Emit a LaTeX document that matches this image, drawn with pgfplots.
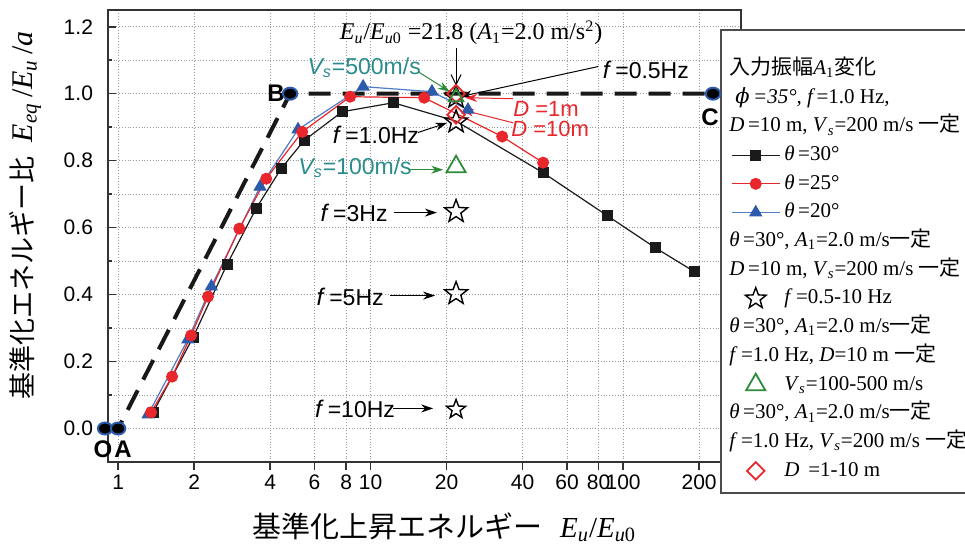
\documentclass[border=0pt]{standalone}
\usepackage{fontspec}
\setmainfont{Liberation Serif}
\newfontfamily\arial{Liberation Sans}
\newfontfamily\jp{Noto Sans CJK JP}
\newfontfamily\dvs{DejaVu Serif}
\usepackage{pgfplots}
\pgfplotsset{compat=1.18}
\usetikzlibrary{arrows.meta}
\definecolor{cred}{HTML}{E8262B}
\definecolor{cblue}{HTML}{2B5BAA}
\definecolor{cblueline}{HTML}{4F7CC4}
\definecolor{cgreen}{HTML}{2E8B3A}
\definecolor{cteal}{HTML}{2A8C8C}
\definecolor{cblack}{HTML}{1A1A1A}
\pgfdeclareplotmark{ostar}{%
 \pgfpathmoveto{\pgfpointpolar{90}{\pgfplotmarksize}}%
 \pgfpathlineto{\pgfpointpolar{126}{0.42\pgfplotmarksize}}%
 \pgfpathlineto{\pgfpointpolar{162}{\pgfplotmarksize}}%
 \pgfpathlineto{\pgfpointpolar{198}{0.42\pgfplotmarksize}}%
 \pgfpathlineto{\pgfpointpolar{234}{\pgfplotmarksize}}%
 \pgfpathlineto{\pgfpointpolar{270}{0.42\pgfplotmarksize}}%
 \pgfpathlineto{\pgfpointpolar{306}{\pgfplotmarksize}}%
 \pgfpathlineto{\pgfpointpolar{342}{0.42\pgfplotmarksize}}%
 \pgfpathlineto{\pgfpointpolar{18}{\pgfplotmarksize}}%
 \pgfpathlineto{\pgfpointpolar{54}{0.42\pgfplotmarksize}}%
 \pgfpathclose
 \pgfusepathqstroke}
\pgfplotsset{
  lineleg/.style={legend image code/.code={\draw[mark repeat=2, mark phase=2, ##1] plot coordinates {(0pt,0pt) (12pt,0pt) (24pt,0pt)};}},
  markleg/.style={legend image code/.code={\draw[##1] plot coordinates {(12pt,0pt)};}},
}
\newcommand{\ssz}{\arial\fontsize{11.5}{13}\selectfont}
\newcommand{\tsz}{\fontsize{12}{14}\selectfont}
\newcommand{\lgs}{\hspace*{-27.5pt}}
\newcommand{\itx}[1]{\textit{#1}}
\newcommand{\sub}[1]{\textsubscript{#1}}
\begin{document}
\begin{tikzpicture}
\begin{axis}[
  at={(0,0)}, anchor=south west, scale only axis,
  width=316.5pt, height=226pt,
  xmode=log, xmin=0.912, xmax=293, ymin=-0.1, ymax=1.25,
  clip=false,
  xtick={1,2,4,6,8,10,20,40,60,80,100,200},
  xticklabels={1,2,4,6,8,10,20,40,60,80,100,200},
  ytick={0,0.2,0.4,0.6,0.8,1.0,1.2},
  minor ytick={0.1,0.3,0.5,0.7,0.9,1.1},
  xmajorgrids, ymajorgrids, yminorgrids,
  major grid style={densely dotted, black!40, line width=0.5pt},
  minor grid style={densely dotted, black!40, line width=0.5pt},
  xtick pos=left, ytick pos=left,
  tick align=inside,
  major tick length=4pt, minor tick length=2pt,
  x tick style={yshift=-4pt},
  axis line style={black!80, line width=0.9pt},
  tick style={black!80, line width=0.8pt},
  tick label style={font=\arial\fontsize{10.5}{12}\selectfont},
  /pgf/number format/assume math mode=true,
  yticklabel style={/pgf/number format/fixed, /pgf/number format/fixed zerofill, /pgf/number format/precision=1, xshift=-4pt},
  xticklabel style={yshift=-3pt},
  legend style={at={(0.968,0.933)}, anchor=north west, draw=none, fill=none,
    font=\fontsize{10.5}{12.5}\selectfont, inner xsep=5pt, inner ysep=7pt, row sep=0pt,
    nodes={inner ysep=1pt, text height=8.85pt, text depth=3.5pt}},
  legend cell align=left,
]
% reference line O-A-B-C
\addplot[forget plot, black!90, line width=2pt, dash pattern=on 11pt off 6pt, mark=*, mark size=3pt,
  mark options={solid, fill=black, draw=cblue, line width=1pt, xscale=1.2}]
  coordinates {(0.888,0) (1.0,0) (4.8,1.0) (227,1.0)};
% theta = 30
\addplot[forget plot, cblack, line width=0.6pt] coordinates {
 (1.376,0.048)(1.98,0.272)(2.70,0.49)(3.52,0.657)(4.42,0.776)(5.45,0.860)(7.71,0.946)(12.3,0.973)
 (21.8,0.918)(48.2,0.764)(86.4,0.636)(134,0.540)(191,0.469)};
\addplot[forget plot, only marks, mark=square*, mark size=2.5pt, cblack] coordinates {
 (1.376,0.048)(1.98,0.272)(2.70,0.49)(3.52,0.657)(4.42,0.776)(5.45,0.860)(7.71,0.946)(12.3,0.973)
 (48.2,0.764)(86.4,0.636)(134,0.540)(191,0.469)};
% theta = 20
\addplot[forget plot, cblueline, line width=0.6pt, mark=triangle*, mark size=3.3pt, mark options={fill=cblue, draw=cblue}] coordinates {
 (1.315,0.042)(1.89,0.266)(2.34,0.424)(3.65,0.722)(5.16,0.893)(9.34,1.021)(17.5,1.006)(24.3,0.952)};
% theta = 25
\addplot[forget plot, cred, line width=0.6pt, mark=*, mark size=2.7pt] coordinates {
 (1.35,0.048)(1.636,0.155)(1.946,0.278)(2.27,0.394)(3.02,0.597)(3.86,0.746)(5.36,0.886)(8.30,0.991)
 (16.3,0.988)(33.2,0.872)(48.2,0.794)};
% f variation (stars)
\addplot[forget plot, only marks, mark=ostar, mark size=6pt, mark options={draw=black, line width=0.7pt}] coordinates {
 (21.8,0.99)(21.8,0.916)(21.8,0.648)(21.8,0.403)};
\addplot[forget plot, only marks, mark=ostar, mark size=5pt, mark options={draw=black, line width=0.7pt}] coordinates {(21.8,0.057)};
% D variation (diamonds)
\addplot[forget plot, only marks, mark=square, mark size=3.1pt, mark options={rotate=45, draw=cred, line width=0.9pt}] coordinates {(21.8,1.0)(21.8,0.937)};
% Vs variation (triangles)
\addplot[forget plot, only marks, mark=triangle, mark size=5.5pt, mark options={draw=cgreen, line width=0.9pt}] coordinates {(21.8,0.782)};
\addplot[forget plot, only marks, mark=triangle, mark size=4.2pt, mark options={draw=cgreen, line width=0.9pt}] coordinates {(21.8,0.99)};

% annotations
\node[font=\tsz] at (axis cs:25.0,1.182) {\itx{E}\sub{\itx{u}}/\itx{E}\sub{\itx{u}0} =21.8 (\itx{A}\sub{1}=2.0 m/s\textsuperscript{2})};
\draw[-{Straight Barb[length=5pt,width=5pt]}, black, line width=0.5pt] (axis cs:21.8,1.137) -- (axis cs:21.8,1.024);
\node[font=\ssz, text=cteal] at (axis cs:9.43,1.078) {\itshape V\sub{s}\upshape =500m/s};
\draw[-{Stealth[length=6pt,width=4pt]}, cgreen, line width=0.5pt] (axis cs:15.4,1.066) -- (axis cs:20.6,1.006);
\node[font=\ssz] at (axis cs:123,1.072) {{\tsz\itx{f}}\,=0.5Hz};
\draw[-{Stealth[length=6pt,width=4pt]}, black, line width=0.5pt] (axis cs:79.6,1.081) -- (axis cs:22.6,0.991);
\node[font=\arial\fontsize{11}{12}\selectfont, text=cred, inner sep=0pt] at (axis cs:49.5,0.955) {\itshape D\upshape\ =1m};
\draw[-{Stealth[length=6pt,width=4pt]}, cred, line width=0.5pt] (axis cs:36.7,0.985) -- (axis cs:23.7,0.988);
\node[font=\arial\fontsize{11}{12}\selectfont, text=cred, inner sep=0pt] at (axis cs:51.4,0.895) {\itshape D\upshape\ =10m};
\draw[-{Stealth[length=6pt,width=4pt]}, cred, line width=0.5pt] (axis cs:36.7,0.913) -- (axis cs:23.0,0.952);
\node[font=\ssz] at (axis cs:10.5,0.878) {{\tsz\itx{f}}\,=1.0Hz};
\draw[-{Stealth[length=6pt,width=4pt]}, black, line width=0.5pt] (axis cs:15.4,0.884) -- (axis cs:20.1,0.913);
\node[font=\ssz, text=cteal] at (axis cs:8.68,0.779) {\itshape V\sub{s}\upshape =100m/s};
\draw[-{Stealth[length=6pt,width=4pt]}, cgreen, line width=0.5pt] (axis cs:14.1,0.773) -- (axis cs:19.4,0.773);
\node[font=\ssz] at (axis cs:8.6,0.645) {{\tsz\itx{f}}\,=3Hz};
\draw[-{Stealth[length=6pt,width=4pt]}, black, line width=0.5pt] (axis cs:12.4,0.645) -- (axis cs:18.3,0.645);
\node[font=\ssz] at (axis cs:8.30,0.394) {{\tsz\itx{f}}\,=5Hz};
\draw[-{Stealth[length=6pt,width=4pt]}, black, line width=0.5pt] (axis cs:11.9,0.397) -- (axis cs:18.0,0.397);
\node[font=\ssz] at (axis cs:8.68,0.060) {{\tsz\itx{f}}\,=10Hz};
\draw[-{Stealth[length=6pt,width=4pt]}, black, line width=0.5pt] (axis cs:12.3,0.060) -- (axis cs:17.7,0.060);
\node[font=\arial\bfseries\fontsize{12}{14}\selectfont] at (axis cs:4.22,1.0) {B};
\node[font=\arial\bfseries\fontsize{12}{14}\selectfont] at (axis cs:221,0.931) {C};
\node[font=\arial\bfseries\fontsize{12}{14}\selectfont] at (axis cs:0.872,-0.063) {O};
\node[font=\arial\bfseries\fontsize{12}{14}\selectfont] at (axis cs:1.046,-0.063) {A};
% axis labels
\node[rotate=90, anchor=center] at (axis description cs:-0.131,0.546)
 {{\jp\fontsize{13.5}{15}\selectfont 基準化エネルギー比}\hspace{7pt}{\fontsize{15}{16}\selectfont\itx{E}\sub{\itx{eq}}\,/\itx{E}\sub{\itx{u}}\,/\itx{a}}};
\node[anchor=center] at (axis description cs:0.531,-0.144)
 {{\jp\fontsize{14.5}{15}\selectfont 基準化上昇エネルギー}\hspace{9pt}{\fontsize{14.5}{16}\selectfont\itx{E}\sub{\itx{u}}/\itx{E}\sub{\itx{u}0}}};
% legend frame
\draw[fill=white, draw=black!70, line width=0.8pt] (axis description cs:0.9684,0.9558) rectangle (axis description cs:1.6,-0.0686);

% legend
\addlegendimage{empty legend}
\addlegendentry{\lgs{\jp 入力振幅}\itx{A}\sub{1}{\jp 変化}}
\addlegendimage{empty legend}
\addlegendentry{\lgs\hspace*{3pt}{\dvs\itshape ϕ}\itx{\,=35°, f\,}=1.0 Hz,}
\addlegendimage{empty legend}
\addlegendentry{\lgs\itx{D}\,=10 m, \itx{V}\sub{\itx{s}}=200 m/s {\jp 一定}}
\addlegendimage{cblack, line width=0.6pt, mark=square*, mark size=2.5pt, lineleg}
\addlegendentry{\itx{θ}\,=30°}
\addlegendimage{cred, line width=0.6pt, mark=*, mark size=2.7pt, lineleg}
\addlegendentry{\itx{θ}\,=25°}
\addlegendimage{cblueline, line width=0.6pt, mark=triangle*, mark size=3.3pt, mark options={fill=cblue, draw=cblue}, lineleg}
\addlegendentry{\itx{θ}\,=20°}
\addlegendimage{empty legend}
\addlegendentry{\lgs\itx{θ}\,=30°, \itx{A}\sub{1}=2.0 m/s{\jp 一定}}
\addlegendimage{empty legend}
\addlegendentry{\lgs\itx{D}\,=10 m, \itx{V}\sub{\itx{s}}=200 m/s {\jp 一定}}
\addlegendimage{only marks, mark=ostar, mark size=5.5pt, black, line width=0.7pt, markleg}
\addlegendentry{\itx{f}\,=0.5-10 Hz}
\addlegendimage{empty legend}
\addlegendentry{\lgs\itx{θ}\,=30°, \itx{A}\sub{1}=2.0 m/s{\jp 一定}}
\addlegendimage{empty legend}
\addlegendentry{\lgs\itx{f}\,=1.0 Hz, \itx{D}=10 m {\jp 一定}}
\addlegendimage{only marks, mark=triangle, mark size=5.5pt, cgreen, line width=0.9pt, markleg}
\addlegendentry{\itx{V}\sub{\itx{s}}=100-500 m/s}
\addlegendimage{empty legend}
\addlegendentry{\lgs\itx{θ}\,=30°, \itx{A}\sub{1}=2.0 m/s{\jp 一定}}
\addlegendimage{empty legend}
\addlegendentry{\lgs\itx{f}\,=1.0 Hz, \itx{V}\sub{\itx{s}}=200 m/s {\jp 一定}}
\addlegendimage{only marks, mark=square, mark size=3.1pt, mark options={rotate=45}, cred, line width=0.9pt, markleg}
\addlegendentry{\itx{D}\, =1-10 m}
\end{axis}
\pgfresetboundingbox
\path[use as bounding box] (-54pt,-43.5pt) rectangle (428.5pt,231pt);
\end{tikzpicture}
\end{document}
